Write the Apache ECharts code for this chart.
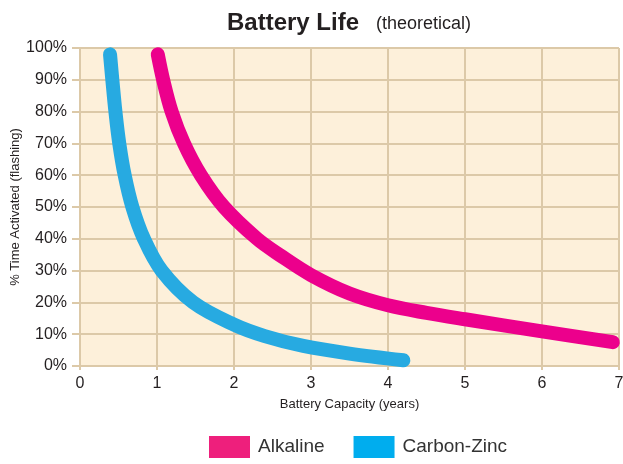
<!DOCTYPE html>
<html><head><meta charset="utf-8">
<script src="https://cdn.jsdelivr.net/npm/echarts@6/dist/echarts.min.js"></script>
<style>html,body{margin:0;padding:0;background:#fff}#c{width:623px;height:464px}</style>
</head><body><div id="c"></div>
<script>
const seriesNames = ['Alkaline', 'Carbon-Zinc'];
const alkalineX = [1.01, 1.08, 1.19, 1.35, 1.57, 1.87, 2.3, 2.6, 3, 3.5, 4, 4.5, 5, 6, 6.92];
const alkalineY = [98, 90, 80, 70, 60, 50, 40, 34.8, 28.6, 22.8, 19.1, 16.7, 14.7, 10.9, 7.5];
const carbonX = [0.39, 0.42, 0.46, 0.51, 0.58, 0.68, 0.83, 1.06, 1.47, 2, 2.4, 2.9, 3.5, 4.2];
const carbonY = [98, 90, 80, 70, 60, 50, 40, 30, 20, 13, 9.4, 6.3, 3.9, 1.8];
const xTicks = [0, 1, 2, 3, 4, 5, 6, 7];
const yTicks = [0, 10, 20, 30, 40, 50, 60, 70, 80, 90, 100];

const font = '"Liberation Sans", Arial, sans-serif';
const grid = '#DCC9A8';
const chart = echarts.init(document.getElementById('c'));
const zip = (xs, ys) => xs.map((x, i) => [x, ys[i]]);
chart.setOption({
  animation: false,
  title: {
    text: '{a|Battery Life} {b|(theoretical)}',
    left: 222, top: 6,
    textStyle: { rich: {
      a: { fontFamily: font, fontWeight: 'bold', fontSize: 24, color: '#231F20' },
      b: { fontFamily: font, fontWeight: 'normal', fontSize: 18, color: '#231F20', padding: [3, 0, 0, 12] }
    } }
  },
  grid: { left: 80, right: 4, top: 48, bottom: 98, show: true, backgroundColor: '#FDF0DA', borderWidth: 0, outerBoundsMode: 'none', containLabel: false },
  legend: {
    bottom: 1, left: 204, itemWidth: 41, itemHeight: 22, itemGap: 29, icon: 'rect',
    textStyle: { fontFamily: font, fontSize: 19, color: '#333333', padding: [0, 0, 0, 3] },
    data: [
      { name: seriesNames[0], itemStyle: { color: '#EE1F7C' } },
      { name: seriesNames[1], itemStyle: { color: '#00ADEE' } }
    ]
  },
  xAxis: {
    type: 'value', min: xTicks[0], max: xTicks[xTicks.length - 1], interval: 1,
    name: 'Battery Capacity (years)', nameLocation: 'middle', nameGap: 32, nameMoveOverlap: false,
    nameTextStyle: { fontFamily: font, fontSize: 13, color: '#231F20' },
    axisLine: { lineStyle: { color: grid, width: 2 } },
    axisTick: { show: true, length: 4, lineStyle: { color: grid, width: 2 } },
    axisLabel: { margin: 10, fontFamily: font, fontSize: 16, color: '#231F20' },
    splitLine: { show: true, lineStyle: { color: grid, width: 2 } }
  },
  yAxis: {
    type: 'value', min: yTicks[0], max: yTicks[yTicks.length - 1], interval: 10,
    name: '% Time Activated (flashing)', nameLocation: 'middle', nameGap: 58, nameMoveOverlap: false,
    nameTextStyle: { fontFamily: font, fontSize: 13, color: '#231F20' },
    axisLine: { show: true, lineStyle: { color: grid, width: 2 } },
    axisTick: { show: true, length: 8, lineStyle: { color: grid, width: 2 } },
    axisLabel: { margin: 13, fontFamily: font, fontSize: 16, color: '#231F20', formatter: '{value}%', padding: [0, 0, 8, 0] },
    splitLine: { show: true, lineStyle: { color: grid, width: 2 } }
  },
  series: [
    { name: seriesNames[0], type: 'line', data: zip(alkalineX, alkalineY), smooth: 0.35, showSymbol: false, clip: false,
      color: '#EC008C', lineStyle: { width: 14, color: '#EC008C', cap: 'round', join: 'round' } },
    { name: seriesNames[1], type: 'line', data: zip(carbonX, carbonY), smooth: 0.35, showSymbol: false, clip: false,
      color: '#27AAE1', lineStyle: { width: 14, color: '#27AAE1', cap: 'round', join: 'round' } }
  ]
});
</script></body></html>
